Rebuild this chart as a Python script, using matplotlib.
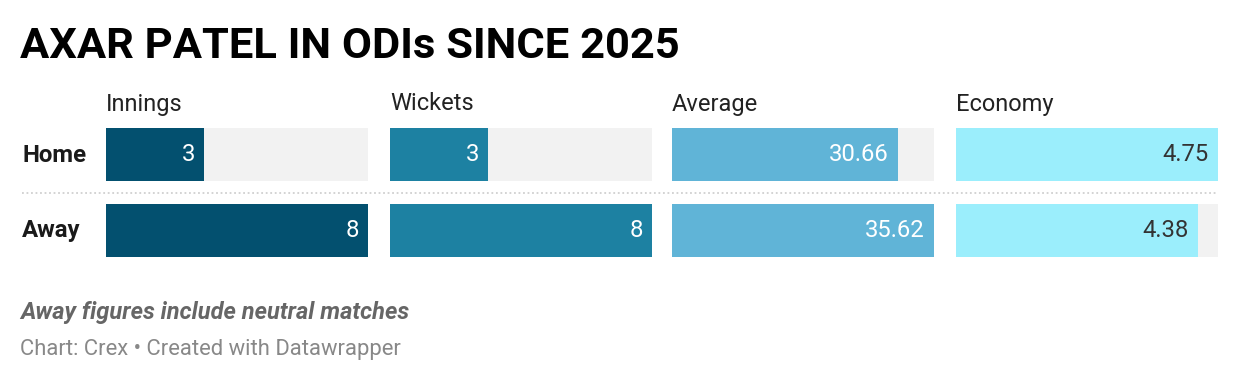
import matplotlib.pyplot as plt

rows = ["Home", "Away"]
columns = ["Innings", "Wickets", "Average", "Economy"]
innings = [3, 8]
wickets = [3, 8]
average = [30.66, 35.62]
economy = [4.75, 4.38]
labels_innings = ["3", "8"]
labels_wickets = ["3", "8"]
labels_average = ["30.66", "35.62"]
labels_economy = ["4.75", "4.38"]

values = [innings, wickets, average, economy]
labels = [labels_innings, labels_wickets, labels_average, labels_economy]
colors = ["#03506f", "#1d81a2", "#60b4d7", "#9beefc"]
text_colors = ["white", "white", "white", "#333333"]

plt.rcParams['font.family'] = ['Roboto', 'DejaVu Sans']

W, H = 1240, 382
fig = plt.figure(figsize=(W / 100, H / 100), dpi=100)

def fx(px):
    return px / W

def fy(py):
    return 1 - py / H

fig.text(fx(20), fy(46), "AXAR PATEL IN ODIs SINCE 2025", fontsize=31.3,
         fontweight='bold', color='black', va='center', ha='left')

col_left = [106, 390, 672, 956]
col_width = 262
bar_h = 53 / 76
top, bottom = 128, 257

for i, col in enumerate(columns):
    ax = fig.add_axes([fx(col_left[i]), fy(bottom), col_width / W, (bottom - top) / H])
    vmax = max(values[i])
    ax.barh([0, 1], [vmax, vmax], height=bar_h, color="#f2f2f2")
    ax.barh([0, 1], values[i], height=bar_h, color=colors[i])
    for j, v in enumerate(values[i]):
        ax.text(v - vmax * 0.035, j, labels[i][j], ha='right', va='center',
                fontsize=17.2, color=text_colors[i])
    ax.set_xlim(0, vmax)
    ax.set_ylim(1 + bar_h / 2, -bar_h / 2)
    ax.axis('off')
    fig.text(fx(col_left[i]), fy(104), col, fontsize=17, color='#222222',
             va='center', ha='left')

fig.text(fx(22), fy(155), rows[0], fontsize=17.3, fontweight='bold', color='#1a1a1a',
         va='center', ha='left')
fig.text(fx(22), fy(231), rows[1], fontsize=17.3, fontweight='bold', color='#1a1a1a',
         va='center', ha='left')

fig.add_artist(plt.Line2D([fx(22), fx(1218)], [fy(193), fy(193)], color='#d0d0d0',
                          linestyle=(0, (1, 1.5)), linewidth=1.3))

fig.text(fx(20), fy(312), "Away figures include neutral matches", fontsize=17,
         fontweight='bold', fontstyle='italic', color='#666666', va='center', ha='left')
fig.text(fx(20), fy(349), "Chart: Crex \u2022 Created with Datawrapper", fontsize=15.8,
         color='#888888', va='center', ha='left')

fig.savefig("out.png", dpi=100)
